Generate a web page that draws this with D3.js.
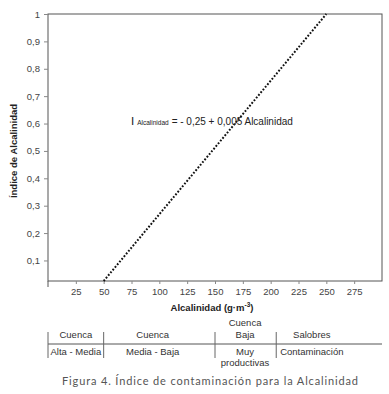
<!DOCTYPE html>
<html>
<head>
<meta charset="utf-8">
<script src="https://cdn.jsdelivr.net/npm/d3@7"></script>
<style>
  body { margin: 0; background: #fff; }
  text { font-family: "Liberation Sans", Arial, sans-serif; }
</style>
</head>
<body>
<svg width="389" height="394"></svg>
<script>
// values
var xTicks = [25, 50, 75, 100, 125, 150, 175, 200, 225, 250, 275];
var yTicks = [0.1, 0.2, 0.3, 0.4, 0.5, 0.6, 0.7, 0.8, 0.9, 1];
var xDomain = [0, 300];
var yDomain = [0.025, 1];   // baseline sits a little above 0 in the original

// dotted line I = -0.25 + 0.005 A, endpoints as drawn
var lineAlc = [50, 250];
var lineIdx = [0.025, 1];

// band table under the axis
var dividers = [0, 50, 150, 205];
var colCenters = [25, 94, 177, 237];
var rowTop = [["Cuenca"], ["Cuenca"], ["Cuenca", "Baja"], ["Salobres"]];
var rowBottom = [["Alta - Media"], ["Media - Baja"], ["Muy", "productivas"], ["Contaminación"]];

var svg = d3.select("svg"),
    width = +svg.attr("width"),
    height = +svg.attr("height"),
    margin = {top: 14, right: 7, bottom: 113, left: 48};

var x = d3.scaleLinear().domain(xDomain).range([margin.left, width - margin.right]);
var y = d3.scaleLinear().domain(yDomain).range([height - margin.bottom, margin.top]);

var comma = function(d) { return d === 1 ? "1" : d3.format(".1f")(d).replace(".", ","); };

// frame
svg.append("rect")
    .attr("x", x(0)).attr("y", y(1))
    .attr("width", x(300) - x(0)).attr("height", y(yDomain[0]) - y(1))
    .attr("fill", "none").attr("stroke", "#555").attr("stroke-width", 1);

// left axis runs a bit below the baseline
svg.append("line")
    .attr("x1", x(0)).attr("x2", x(0))
    .attr("y1", y(yDomain[0])).attr("y2", y(yDomain[0]) + 6)
    .attr("stroke", "#555");

var gy = svg.append("g")
    .attr("transform", "translate(" + x(0) + ",0)")
    .call(d3.axisLeft(y).tickValues(yTicks).tickFormat(comma).tickSize(4).tickPadding(4));
gy.select(".domain").remove();

var gx = svg.append("g")
    .attr("transform", "translate(0," + y(yDomain[0]) + ")")
    .call(d3.axisBottom(x).tickValues(xTicks).tickSize(3).tickPadding(4));
gx.select(".domain").remove();

svg.selectAll(".tick line").attr("stroke", "#888");
svg.selectAll(".tick text")
    .attr("fill", "#444")
    .style("font-size", "9.5px")
    .style("font-family", "Liberation Sans, Arial, sans-serif");

// axis titles
svg.append("text")
    .attr("transform", "translate(17," + 151 + ") rotate(-90)")
    .attr("text-anchor", "middle")
    .attr("font-weight", "bold")
    .attr("font-size", 9.5)
    .attr("fill", "#222")
    .text("Índice de Alcalinidad");

var xt = svg.append("text")
    .attr("x", 212).attr("y", 311)
    .attr("text-anchor", "middle")
    .attr("font-weight", "bold")
    .attr("font-size", 9.5)
    .attr("fill", "#222");
xt.append("tspan").text("Alcalinidad (g·m");
xt.append("tspan").attr("font-size", 6.5).attr("dy", -4).text("-3");
xt.append("tspan").attr("dy", 4).text(")");

// dotted line
var pts = lineAlc.map(function(a, i) { return [a, lineIdx[i]]; });
svg.append("path")
    .datum(pts)
    .attr("d", d3.line().x(function(d) { return x(d[0]); }).y(function(d) { return y(d[1]); }))
    .attr("fill", "none")
    .attr("stroke", "#111")
    .attr("stroke-width", 2)
    .attr("stroke-dasharray", "1.8,1.7");

// equation label
var eq = svg.append("text").attr("x", 131).attr("y", 125).attr("fill", "#222");
eq.append("tspan").attr("font-size", 11.5).attr("font-weight", 300).text("I");
eq.append("tspan").attr("font-size", 6.5).attr("dx", 3).text("Alcalinidad");
eq.append("tspan").attr("font-size", 10).attr("dx", 3).text("= - 0,25 + 0,005 Alcalinidad");

// table
var tableTop = 332, tableLine = 344, tableBottom = 358;
svg.append("line")
    .attr("x1", x(0)).attr("x2", x(300))
    .attr("y1", tableLine).attr("y2", tableLine)
    .attr("stroke", "#555");

svg.selectAll(".divider")
    .data(dividers)
    .enter().append("line")
        .attr("class", "divider")
        .attr("x1", function(d) { return x(d); })
        .attr("x2", function(d) { return x(d); })
        .attr("y1", tableTop).attr("y2", tableBottom)
        .attr("stroke", "#666");

function cells(rows, baseline, grow) {
    rows.forEach(function(lines, i) {
        lines.forEach(function(t, j) {
            var yy = grow > 0 ? baseline + j * 11 : baseline - (lines.length - 1 - j) * 12;
            svg.append("text")
                .attr("x", x(colCenters[i]))
                .attr("y", yy)
                .attr("text-anchor", "middle")
                .attr("font-size", 9.5)
                .attr("fill", "#333")
                .text(t);
        });
    });
}
cells(rowTop, 338, -1);
cells(rowBottom, 355, 1);

// caption
svg.append("text")
    .attr("x", 210).attr("y", 385)
    .attr("text-anchor", "middle")
    .attr("font-size", 11)
    .attr("fill", "#555")
    .style("font-family", "Lato, 'Open Sans', sans-serif")
    .attr("textLength", 296)
    .text("Figura 4. Índice de contaminación para la Alcalinidad");
</script>
</body>
</html>
